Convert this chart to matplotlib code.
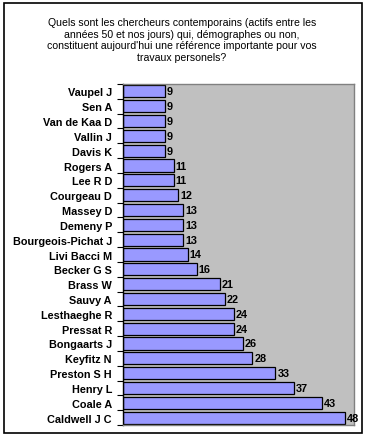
import matplotlib
matplotlib.use("Agg")
import matplotlib.pyplot as plt
from matplotlib.patches import Rectangle

names = ["Vaupel J", "Sen A", "Van de Kaa D", "Vallin J", "Davis K", "Rogers A",
         "Lee R D", "Courgeau D", "Massey D", "Demeny P", "Bourgeois-Pichat J",
         "Livi Bacci M", "Becker G S", "Brass W", "Sauvy A", "Lesthaeghe R",
         "Pressat R", "Bongaarts J", "Keyfitz N", "Preston S H", "Henry L",
         "Coale A", "Caldwell J C"]
values = [9, 9, 9, 9, 9, 11, 11, 12, 13, 13, 13, 14, 16, 21, 22, 24, 24, 26, 28,
          33, 37, 43, 48]
title = ("Quels sont les chercheurs contemporains (actifs entre les\n"
         "années 50 et nos jours) qui, démographes ou non,\n"
         "constituent aujourd'hui une référence importante pour vos\n"
         "travaux personels?")

plt.rcParams['font.family'] = ['Liberation Sans', 'DejaVu Sans']
W, H = 367, 439
fig = plt.figure(figsize=(W / 100, H / 100), dpi=100)
fig.patch.set_facecolor('white')
fig.add_artist(Rectangle((4 / W, 1 - 434 / H), 358 / W, 430 / H, transform=fig.transFigure,
                         fill=False, edgecolor='black', linewidth=1.2))

fig.text(182 / W, 1 - 18 / H, title, ha='center', va='top', fontsize=7.6,
         linespacing=1.2)

ax = fig.add_axes([123 / W, 1 - 426 / H, (354 - 123) / W, (426 - 85) / H])
ax.set_facecolor('#C0C0C0')
n = len(names)
ys = list(range(n))
ax.barh(ys, values, height=0.82, color='#9999FF', edgecolor='black', linewidth=0.9)
ax.set_ylim(n - 0.5, -0.5)
ax.set_xlim(0, 50)
ax.set_yticks(ys)
ax.set_yticklabels(names, fontsize=7.8, fontweight='bold')
ax.tick_params(axis='y', length=0, pad=8)
ax.set_yticks([i - 0.5 for i in range(n + 1)], minor=True)
ax.tick_params(axis='y', which='minor', length=4, width=0.8, color='black')
ax.set_xticks([])
for s in ['top', 'right', 'bottom']:
    ax.spines[s].set_color('#808080')
    ax.spines[s].set_linewidth(1)
ax.spines['left'].set_color('black')
ax.spines['left'].set_linewidth(1)
for y, v in zip(ys, values):
    ax.text(v + 0.4, y, str(v), va='center', ha='left', fontsize=7.8, fontweight='bold')

fig.savefig('out.png', dpi=100)
